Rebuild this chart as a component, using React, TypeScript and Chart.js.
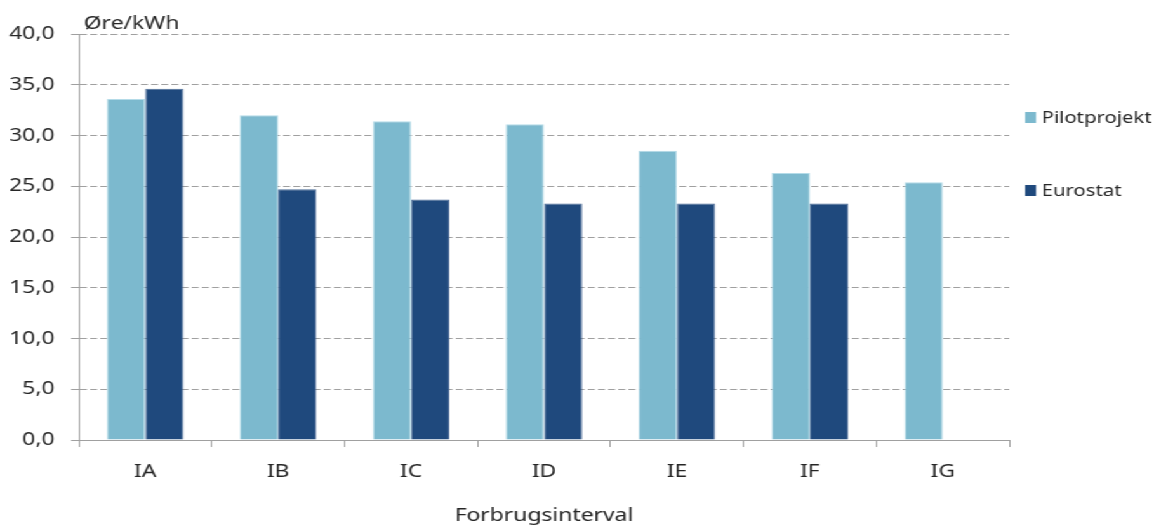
import React, { useEffect, useRef } from "react";
import { Chart, registerables } from "chart.js";

Chart.register(...registerables);

// ---- data ----
const categories = ["IA", "IB", "IC", "ID", "IE", "IF", "IG"];
const pilotprojekt = [33.6, 32.0, 31.4, 31.1, 28.5, 26.3, 25.4];
const eurostat: (number | null)[] = [34.6, 24.7, 23.7, 23.3, 23.3, 23.3, null];
const seriesNames = ["Pilotprojekt", "Eurostat"];
const yUnitLabel = "Øre/kWh";
const xAxisTitle = "Forbrugsinterval";

// ---- layout / style ----
const W = 909;
const H = 526;
const SX = 1154 / W; // horizontal stretch as in the reference
const FONT = "'Noto Sans', sans-serif";
const TEXT = "#262626";
const GRID = "#a0a0a0";
const PILOT_COLOR = "#7cb9ce";
const EURO_COLOR = "#1f497d";

const annotations = {
  id: "annotations",
  afterDraw(chart: any) {
    const { ctx, chartArea: a } = chart;
    ctx.save();
    ctx.fillStyle = TEXT;
    ctx.font = `18px ${FONT}`;
    ctx.textBaseline = "alphabetic";
    ctx.textAlign = "left";
    ctx.fillText(yUnitLabel, a.left + 4, 29);
    ctx.textAlign = "center";
    ctx.fillText(xAxisTitle, (a.left + a.right) / 2, 521);
    ctx.textAlign = "left";
    ctx.font = `16px ${FONT}`;
    const legendTops = [112, 185];
    chart.data.datasets.forEach((ds: any, i: number) => {
      ctx.fillStyle = ds.backgroundColor;
      ctx.fillRect(a.right + 12.4, legendTops[i], 8.7, 11);
      ctx.fillStyle = TEXT;
      ctx.fillText(ds.label, a.right + 25.5, legendTops[i] + 10.5);
    });
    ctx.restore();
  },
};

export default function App() {
  const ref = useRef<HTMLCanvasElement>(null);

  useEffect(() => {
    if (!ref.current) return;
    const chart = new Chart(ref.current, {
      type: "bar",
      data: {
        labels: categories,
        datasets: [
          {
            label: seriesNames[0],
            data: pilotprojekt,
            backgroundColor: PILOT_COLOR,
            borderColor: "#b4dbe8",
            borderWidth: 1,
            categoryPercentage: 0.576,
            barPercentage: 1,
          },
          {
            label: seriesNames[1],
            data: eurostat,
            backgroundColor: EURO_COLOR,
            borderColor: "#4a6a96",
            borderWidth: 1,
            categoryPercentage: 0.576,
            barPercentage: 1,
          },
        ],
      },
      options: {
        animation: false,
        responsive: true,
        maintainAspectRatio: false,
        layout: { padding: { top: 34, right: 114, left: 0, bottom: 0 } },
        plugins: {
          legend: { display: false },
          tooltip: { enabled: false },
        },
        scales: {
          x: {
            afterFit: (s: any) => {
              s.height = 86;
            },
            grid: {
              offset: true,
              drawOnChartArea: false,
              drawTicks: true,
              tickLength: 7,
              tickColor: GRID,
              color: GRID,
            },
            border: { display: true, color: GRID, width: 1 },
            ticks: {
              color: TEXT,
              font: { family: FONT, size: 18 },
              padding: 14,
              maxRotation: 0,
            },
          },
          y: {
            min: 0,
            max: 40,
            afterFit: (s: any) => {
              s.width = 62;
            },
            grid: {
              color: GRID,
              drawTicks: true,
              tickLength: 6,
              tickColor: GRID,
              tickBorderDash: [],
            },
            border: { display: true, color: GRID, width: 1, dash: [5.5, 2.5] },
            ticks: {
              stepSize: 5,
              color: TEXT,
              font: { family: FONT, size: 18 },
              padding: 13,
              callback: (v: any) => Number(v).toFixed(1).replace(".", ","),
            },
          },
        },
      },
      plugins: [annotations],
    });
    return () => chart.destroy();
  }, []);

  return (
    <div
      style={{
        position: "absolute",
        left: 0,
        top: 0,
        width: W,
        height: H,
        transform: `scaleX(${SX})`,
        transformOrigin: "0 0",
        background: "#fff",
      }}
    >
      <canvas ref={ref} />
    </div>
  );
}
